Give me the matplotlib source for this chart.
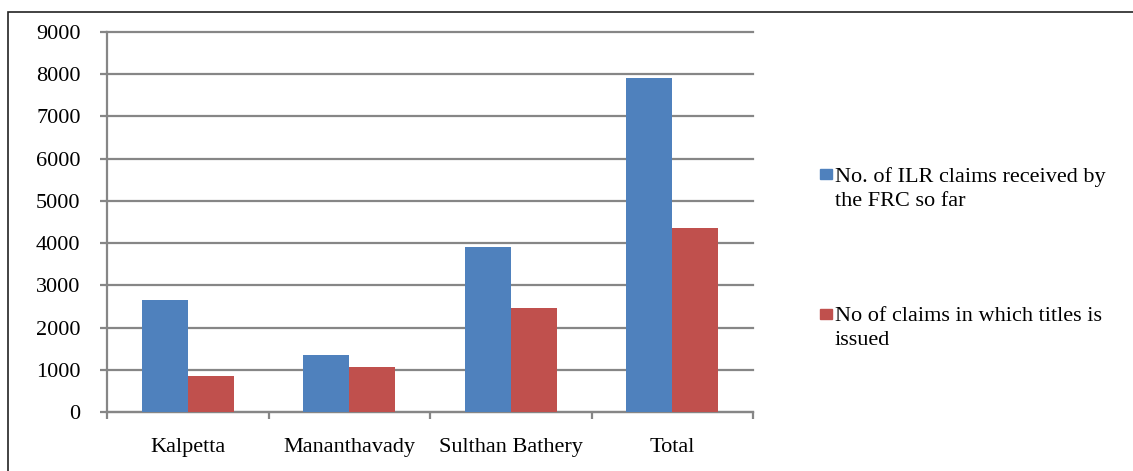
import matplotlib
matplotlib.use("Agg")
import matplotlib.pyplot as plt
import numpy as np
from matplotlib.patches import Rectangle

# block-wise forest rights claims
blocks = ["Kalpetta", "Mananthavady", "Sulthan Bathery", "Total"]
claims_received = [2653, 1351, 3903, 7907]
titles_issued = [847, 1058, 2457, 4362]
series_labels = ["No. of ILR claims received by\nthe FRC so far",
                 "No of claims in which titles is\nissued"]

BLUE, RED, GRID = "#4F81BD", "#C0504D", "#868686"

plt.rcParams["font.family"] = ["Liberation Serif", "DejaVu Serif"]
plt.rcParams["font.size"] = 16

W, H = 1133, 471
fig = plt.figure(figsize=(W / 100, H / 100), dpi=100)
ax = fig.add_axes([107 / W, 1 - 412 / H, (753 - 107) / W, (412 - 32) / H])

# outer chart frame (left and top edges only are inside the canvas)
fig.patches.append(Rectangle((8 / W, -0.1), 1.2, 1 - 12 / H + 0.1,
                             transform=fig.transFigure, fill=False,
                             edgecolor="#222222", lw=1.2))

x = np.arange(len(blocks))
bw = 1 / 3.5
ax.bar(x - bw / 2, claims_received, bw, color=BLUE, zorder=3)
ax.bar(x + bw / 2, titles_issued, bw, color=RED, zorder=3)

ax.set_xlim(-0.5, len(blocks) - 0.5)
ax.set_ylim(0, 9000)
ax.set_yticks(np.arange(0, 9001, 1000))
ax.yaxis.grid(True, color=GRID, lw=1.6, zorder=0)
ax.set_axisbelow(True)
for gl in ax.get_ygridlines():
    gl.set_clip_on(False)

ax.set_xticks(x)
ax.set_xticklabels(blocks)
ax.set_xticks(np.arange(-0.5, len(blocks), 1), minor=True)
ax.tick_params(axis="x", which="major", length=0, pad=19)
ax.tick_params(axis="x", which="minor", length=5, width=1.6, color=GRID)
ax.tick_params(axis="y", length=5, width=1.6, color=GRID, pad=14)

for side in ["top", "right"]:
    ax.spines[side].set_visible(False)
for side in ["left", "bottom"]:
    ax.spines[side].set_color(GRID)
    ax.spines[side].set_linewidth(1.6)

# legend: square key next to the first line of each label
for label, color, ytop in zip(series_labels, [BLUE, RED], [169, 309]):
    fig.patches.append(Rectangle((820 / W, 1 - (ytop + 10) / H), 12 / W, 10 / H,
                                 transform=fig.transFigure, color=color))
    fig.text(835 / W, 1 - (ytop - 2) / H, label, ha="left", va="top",
             linespacing=1.35)

fig.savefig("out.png", dpi=100)
